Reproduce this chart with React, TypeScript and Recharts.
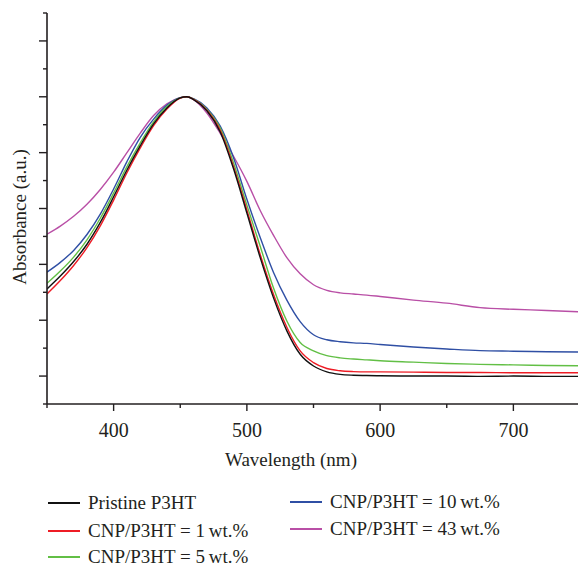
import { LineChart, Line, XAxis, YAxis } from "recharts";

const wavelengths = [
  350, 360, 370, 380, 390, 400, 410, 420, 430, 440, 450, 455, 460, 470, 480, 490, 500,
  510, 520, 530, 540, 550, 560, 570, 580, 590, 600, 625, 650, 675, 700, 725, 750,
];

const pristine = [
  4.12, 4.58, 5.1, 5.72, 6.5, 7.42, 8.38, 9.25, 10.03, 10.6, 10.96, 11.0, 10.9, 10.5, 9.74, 8.42, 6.84,
  5.24, 3.8, 2.62, 1.78, 1.36, 1.15, 1.06, 1.03, 1.02, 1.01, 1.0, 1.0, 0.99, 1.0, 0.99, 0.99,
];
const cnp1 = [
  3.94, 4.42, 4.96, 5.6, 6.38, 7.3, 8.28, 9.17, 9.97, 10.56, 10.95, 11.0, 10.91, 10.52, 9.8, 8.5, 6.95,
  5.35, 3.92, 2.75, 1.9, 1.48, 1.27, 1.19, 1.16, 1.15, 1.15, 1.14, 1.13, 1.13, 1.12, 1.12, 1.12,
];
const cnp5 = [
  4.32, 4.76, 5.26, 5.88, 6.65, 7.55, 8.5, 9.35, 10.1, 10.65, 10.96, 11.0, 10.92, 10.55, 9.88, 8.63, 7.12,
  5.65, 4.15, 2.97, 2.2, 1.9, 1.73, 1.65, 1.61, 1.58, 1.55, 1.5, 1.45, 1.42, 1.4, 1.38, 1.37,
];
const cnp10 = [
  4.72, 5.07, 5.5, 6.07, 6.8, 7.7, 8.68, 9.55, 10.2, 10.7, 10.97, 11.0, 10.93, 10.6, 9.95, 8.82, 7.33,
  5.96, 4.71, 3.72, 2.95, 2.48, 2.3, 2.23, 2.19, 2.17, 2.13, 2.04, 1.97, 1.91, 1.89, 1.87, 1.86,
];
const cnp43 = [
  6.08, 6.37, 6.72, 7.15, 7.68, 8.3, 9.0, 9.7, 10.33, 10.75, 10.97, 11.0, 10.9, 10.42, 9.69, 8.87, 7.97,
  6.93, 6.04, 5.24, 4.66, 4.27, 4.07, 3.98, 3.94, 3.9, 3.85, 3.72, 3.61, 3.45, 3.39, 3.35, 3.3,
];

const xTicks = [350, 400, 450, 500, 550, 600, 650, 700, 750];
const yTicks = [0, 1, 2, 3, 4, 5, 6, 7, 8, 9, 10, 11, 12, 13, 14];

const series = [
  { key: "cnp43", name: "CNP/P3HT = 43\u2009wt.%", color: "#b94fa6", values: cnp43 },
  { key: "cnp10", name: "CNP/P3HT = 10\u2009wt.%", color: "#2f4fa4", values: cnp10 },
  { key: "cnp5", name: "CNP/P3HT = 5\u2009wt.%", color: "#62bf45", values: cnp5 },
  { key: "cnp1", name: "CNP/P3HT = 1\u2009wt.%", color: "#ee1c25", values: cnp1 },
  { key: "pristine", name: "Pristine P3HT", color: "#111111", values: pristine },
];

const data = wavelengths.map((w, i) => {
  const row: Record<string, number> = { w };
  series.forEach((s) => (row[s.key] = s.values[i]));
  return row;
});

const FONT = "'Liberation Serif', 'Times New Roman', serif";
const INK = "#231f20";

function XTick(props: any) {
  const { x, y, payload } = props;
  const major = payload.value % 100 === 0;
  return (
    <g>
      <line x1={x} y1={y} x2={x} y2={y + (major ? 7 : 4)} stroke={INK} strokeWidth={1.4} />
      {major && (
        <text x={x} y={y + 33} textAnchor="middle" fontFamily={FONT} fontSize={20} fill={INK}>
          {payload.value}
        </text>
      )}
    </g>
  );
}

function YTick(props: any) {
  const { x, y, payload } = props;
  const major = payload.value % 2 === 1;
  return <line x1={x - (major ? 8 : 4)} y1={y} x2={x} y2={y} stroke={INK} strokeWidth={1.4} />;
}

// legend layout: right column (10, 43 wt.%), left column (1, 5 wt.%, pristine)
const legendPos = [
  { left: 290, top: 529 },
  { left: 290, top: 502 },
  { left: 48, top: 557 },
  { left: 48, top: 531 },
  { left: 48, top: 503 },
];

export default function App() {
  return (
    <div
      style={{
        position: "absolute",
        left: 0,
        top: 0,
        width: 578,
        height: 567,
        overflow: "hidden",
        background: "#fff",
      }}
    >
      <LineChart
        width={582}
        height={567}
        data={data}
        margin={{ top: 13, right: 2, left: 0, bottom: 0 }}
      >
        <XAxis
          dataKey="w"
          type="number"
          domain={[350, 750]}
          ticks={xTicks}
          interval={0}
          tickSize={0}
          tickMargin={0}
          tickLine={false}
          tick={(p: any) => <XTick {...p} />}
          axisLine={{ stroke: INK, strokeWidth: 1.6 }}
          height={163}
          allowDataOverflow
          label={() => (
            <text x={291} y={466} textAnchor="middle" fontFamily={FONT} fontSize={19} fill={INK}>
              Wavelength (nm)
            </text>
          )}
        />
        <YAxis
          type="number"
          domain={[0, 14]}
          ticks={yTicks}
          interval={0}
          width={47}
          tickSize={0}
          tickMargin={0}
          tickLine={false}
          tick={(p: any) => <YTick {...p} />}
          axisLine={{ stroke: INK, strokeWidth: 1.6 }}
          allowDataOverflow
          label={() => (
            <text
              x={19}
              y={217}
              transform="rotate(-90 19 217)"
              textAnchor="middle"
              dominantBaseline="central"
              fontFamily={FONT}
              fontSize={19}
              fill={INK}
            >
              Absorbance (a.u.)
            </text>
          )}
        />
        {series.map((s) => (
          <Line
            key={s.key}
            type="monotone"
            dataKey={s.key}
            name={s.name}
            stroke={s.color}
            strokeWidth={1.4}
            dot={false}
            isAnimationActive={false}
          />
        ))}
      </LineChart>
      {series.map((s, i) => (
        <div
          key={s.key}
          style={{
            position: "absolute",
            left: legendPos[i].left,
            top: legendPos[i].top - 12,
            height: 24,
            display: "flex",
            alignItems: "center",
            fontFamily: FONT,
            fontSize: 19,
            color: INK,
            whiteSpace: "nowrap",
          }}
        >
          <span
            style={{
              display: "inline-block",
              width: 32,
              height: 2,
              background: s.color,
              marginRight: 8,
            }}
          />
          {s.name}
        </div>
      ))}
    </div>
  );
}
